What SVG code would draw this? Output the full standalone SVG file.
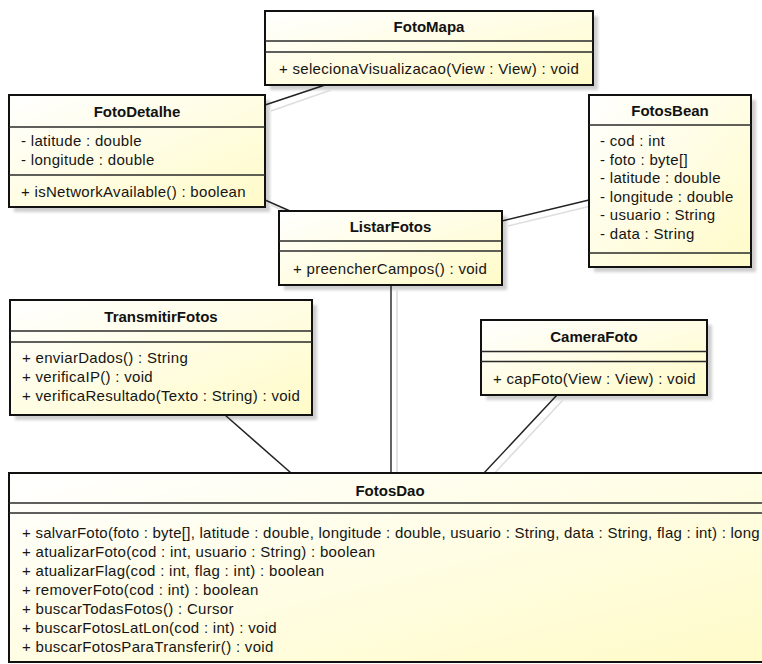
<svg xmlns="http://www.w3.org/2000/svg" width="762" height="664" viewBox="0 0 762 664">
  <defs>
    <linearGradient id="classFill" x1="0" y1="0" x2="1" y2="1">
      <stop offset="0" stop-color="#ffffff"/>
      <stop offset="1" stop-color="#fffbc8"/>
    </linearGradient>
    <filter id="soft" x="-10%" y="-10%" width="130%" height="130%">
      <feGaussianBlur stdDeviation="1.6"/>
    </filter>
  </defs>
  <style>
    .shadow { fill: #cfcfcf; filter: url(#soft); }
    .box { fill: url(#classFill); stroke: #111; stroke-width: 2; }
    .sep { stroke: #2a2a2a; stroke-width: 1.3; }
    .title { font-family: "Liberation Sans", Arial, sans-serif; font-size: 15px; font-weight: bold; fill: #111; text-anchor: middle; }
    .member { font-family: "Liberation Sans", Arial, sans-serif; font-size: 15px; letter-spacing: 0.3px; fill: #151515; }
    .member.long { letter-spacing: 0.25px; }
    .link { stroke: #222; stroke-width: 1.4; fill: none; }
    .link-shadow { stroke: #dedede; stroke-width: 1.6; fill: none; }
  </style>
  <rect width="762" height="664" fill="#ffffff"/>

  <!-- drop shadows behind every class -->
  <g id="shadows">
    <rect class="shadow" x="270" y="16" width="328" height="74"/>
    <rect class="shadow" x="14" y="100" width="256" height="112"/>
    <rect class="shadow" x="594" y="100" width="162" height="172"/>
    <rect class="shadow" x="284" y="216" width="223" height="74"/>
    <rect class="shadow" x="15" y="305" width="302" height="115"/>
    <rect class="shadow" x="486" y="325" width="226" height="75"/>
  </g>

  <!-- associations -->
  <g id="connectors">
    <line class="link-shadow" x1="271" y1="111" x2="331" y2="90"/>
    <line class="link-shadow" x1="271" y1="205" x2="296" y2="216"/>
    <line class="link-shadow" x1="508" y1="226" x2="595" y2="205"/>
    <line class="link-shadow" x1="397" y1="290" x2="397" y2="478"/>
    <line class="link-shadow" x1="231" y1="420" x2="297" y2="478"/>
    <line class="link-shadow" x1="563" y1="400" x2="490" y2="478"/>

    <line class="link" x1="265" y1="105" x2="325" y2="85"/>
    <line class="link" x1="265" y1="200" x2="290" y2="211"/>
    <line class="link" x1="502" y1="221" x2="589" y2="200"/>
    <line class="link" x1="391" y1="285" x2="391" y2="473"/>
    <line class="link" x1="225" y1="415" x2="291" y2="473"/>
    <line class="link" x1="557" y1="395" x2="484" y2="473"/>
  </g>

  <g id="FotoMapa">
    <rect class="box" x="265" y="11" width="328" height="74"/>
    <line class="sep" x1="265" y1="41" x2="593" y2="41"/>
    <line class="sep" x1="265" y1="52" x2="593" y2="52"/>
    <text class="title" x="429" y="32">FotoMapa</text>
    <text class="member" x="279" y="74">+ selecionaVisualizacao(View : View) : void</text>
  </g>

  <g id="FotoDetalhe">
    <rect class="box" x="9" y="95" width="256" height="112"/>
    <line class="sep" x1="9" y1="127" x2="265" y2="127"/>
    <line class="sep" x1="9" y1="175" x2="265" y2="175"/>
    <text class="title" x="137" y="117">FotoDetalhe</text>
    <text class="member" x="21" y="146">- latitude : double</text>
    <text class="member" x="21" y="164.5">- longitude : double</text>
    <text class="member" x="21" y="196.5">+ isNetworkAvailable() : boolean</text>
  </g>

  <g id="FotosBean">
    <rect class="box" x="589" y="95" width="162" height="172"/>
    <line class="sep" x1="589" y1="125" x2="751" y2="125"/>
    <line class="sep" x1="589" y1="253" x2="751" y2="253"/>
    <text class="title" x="670" y="116">FotosBean</text>
    <text class="member" x="600" y="146">- cod : int</text>
    <text class="member" x="600" y="164.5">- foto : byte[]</text>
    <text class="member" x="600" y="183">- latitude : double</text>
    <text class="member" x="600" y="201.5">- longitude : double</text>
    <text class="member" x="600" y="220">- usuario : String</text>
    <text class="member" x="600" y="238.5">- data : String</text>
  </g>

  <g id="ListarFotos">
    <rect class="box" x="279" y="211" width="223" height="74"/>
    <line class="sep" x1="279" y1="241" x2="502" y2="241"/>
    <line class="sep" x1="279" y1="251" x2="502" y2="251"/>
    <text class="title" x="390.5" y="231.5">ListarFotos</text>
    <text class="member" x="293" y="273.5">+ preencherCampos() : void</text>
  </g>

  <g id="TransmitirFotos">
    <rect class="box" x="10" y="300" width="302" height="115"/>
    <line class="sep" x1="10" y1="331" x2="312" y2="331"/>
    <line class="sep" x1="10" y1="342" x2="312" y2="342"/>
    <text class="title" x="161" y="321.5">TransmitirFotos</text>
    <text class="member" x="22" y="362.5">+ enviarDados() : String</text>
    <text class="member" x="22" y="381.5">+ verificaIP() : void</text>
    <text class="member" x="22" y="400.5">+ verificaResultado(Texto : String) : void</text>
  </g>

  <g id="CameraFoto">
    <rect class="box" x="481" y="320" width="226" height="75"/>
    <line class="sep" x1="481" y1="351.5" x2="707" y2="351.5"/>
    <line class="sep" x1="481" y1="361.5" x2="707" y2="361.5"/>
    <text class="title" x="594" y="342">CameraFoto</text>
    <text class="member" x="493" y="383.5">+ capFoto(View : View) : void</text>
  </g>

  <g id="FotosDao">
    <rect class="box" x="9" y="473" width="762" height="189"/>
    <line class="sep" x1="9" y1="503" x2="771" y2="503"/>
    <line class="sep" x1="9" y1="513" x2="771" y2="513"/>
    <text class="title" x="390" y="496">FotosDao</text>
    <text class="member long" x="22" y="537.5">+ salvarFoto(foto : byte[], latitude : double, longitude : double, usuario : String, data : String, flag : int) : long</text>
    <text class="member" x="22" y="556.5">+ atualizarFoto(cod : int, usuario : String) : boolean</text>
    <text class="member" x="22" y="575.5">+ atualizarFlag(cod : int, flag : int) : boolean</text>
    <text class="member" x="22" y="594.5">+ removerFoto(cod : int) : boolean</text>
    <text class="member" x="22" y="613.5">+ buscarTodasFotos() : Cursor</text>
    <text class="member" x="22" y="632.5">+ buscarFotosLatLon(cod : int) : void</text>
    <text class="member" x="22" y="651.5">+ buscarFotosParaTransferir() : void</text>
  </g>
</svg>
